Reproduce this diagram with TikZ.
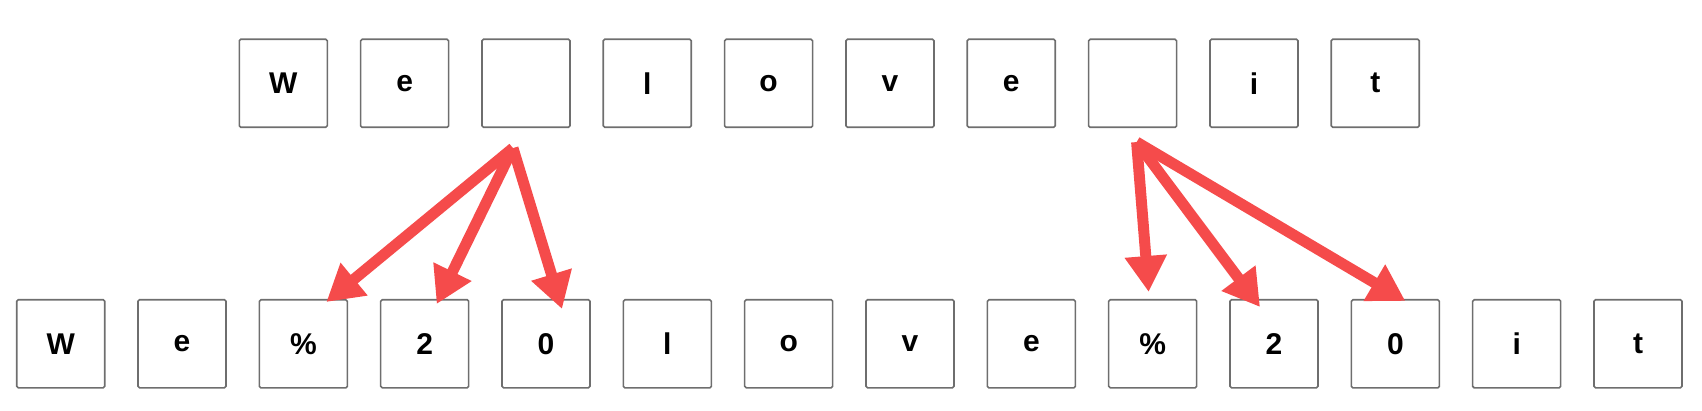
\documentclass[tikz,border=0pt]{standalone}
\usepackage{fontspec}
\setmainfont{Liberation Sans}
\usetikzlibrary{arrows.meta}

\definecolor{arrowred}{RGB}{245,75,75}
\definecolor{boxgray}{RGB}{110,110,110}

\tikzset{
    cell/.style={draw=boxgray, line width=1.6pt, rounded corners=1.5pt,
        minimum size=88pt, inner sep=0pt,
        font=\fontsize{30}{33}\selectfont\bfseries},
    redarrow/.style={draw=arrowred, line width=11pt,
        -{Triangle[length=36pt,width=40pt]}},
}

\begin{document}
\begin{tikzpicture}[x=1pt,y=-1pt]
    \useasboundingbox (0,0) rectangle (1702,411);
    % original string
    \foreach \ch [count=\i from 0] in {W,e,{},l,o,v,e,{},i,t}
        \node[cell] (s\i) at (283.3+121.33*\i, 83.3) {\ch};
    % string after replacing the blanks
    \foreach \ch [count=\i from 0] in {W,e,\%,2,0,l,o,v,e,\%,2,0,i,t}
        \node[cell] (r\i) at (60.7+121.33*\i, 343.8) {\ch};

    \coordinate (fork1) at ([xshift=-13pt,yshift=-20pt]s2.south);
    \coordinate (fork2) at ([xshift=4pt,yshift=-14pt]s7.south);

    \draw[redarrow] (fork1) -- ([xshift=23pt,yshift=-3pt]r2.north);
    \draw[redarrow] (fork1) -- ([xshift=12pt,yshift=-5pt]r3.north);
    \draw[redarrow] (fork1) -- ([xshift=16pt,yshift=-10pt]r4.north);
    \draw[redarrow] (fork2) -- ([xshift=-4pt,yshift=7pt]r9.north);
    \draw[redarrow] (fork2) -- ([xshift=-14pt,yshift=-8pt]r10.north);
    \draw[redarrow] (fork2) -- ([xshift=10pt,yshift=-2pt]r11.north);
\end{tikzpicture}
\end{document}
